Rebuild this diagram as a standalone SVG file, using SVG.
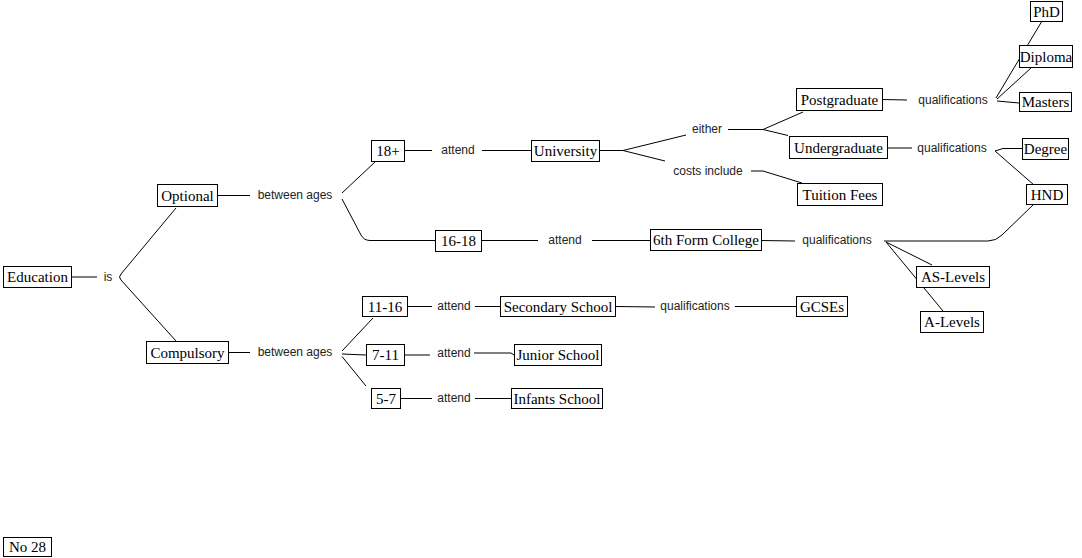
<svg xmlns="http://www.w3.org/2000/svg" width="1082" height="558" viewBox="0 0 1082 558">
<style>
.n rect{fill:#fff;stroke:#000;stroke-width:1}
.n text{font-family:"Liberation Serif","Times New Roman",serif;font-size:15px;fill:#000;text-anchor:middle}
.lbl{font-family:"Liberation Sans",Arial,sans-serif;font-size:12px;fill:#222;text-anchor:middle}
#connectors path{fill:none;stroke:#000;stroke-width:1}
</style>
<rect width="1082" height="558" fill="#fff"/>
<g id="connectors">
<path d="M72,277 L97,277"/>
<path d="M176,208 L121,274 Q118,277 121,280 L176,341"/>
<path d="M218,195.5 L250,195.5"/>
<path d="M229,352.5 L250,352.5"/>
<path d="M375,162 L342,193"/>
<path d="M342,199 L361,235 Q364,240.5 370,240.5 L435,240.5"/>
<path d="M405,150.5 L432,150.5"/>
<path d="M482,150.5 L531,150.5"/>
<path d="M482,240.5 L538,240.5"/>
<path d="M592,240.5 L650,240.5"/>
<path d="M600,150.5 L623,150.5 L686,135"/>
<path d="M623,150.5 L665,161"/>
<path d="M728,129.5 L763,129.5 L803,112"/>
<path d="M763,129.5 L788,135.5"/>
<path d="M751,171 L763,171 L802,183"/>
<path d="M883,99.5 L907,100"/>
<path d="M996,98 L1042,21"/>
<path d="M997,99 L1031,68"/>
<path d="M997,101 L1019,103"/>
<path d="M888,148 L912,148"/>
<path d="M995,151 L1003,148.5 L1022,148.5"/>
<path d="M995,151 L1034,185"/>
<path d="M761,240.5 L795,241"/>
<path d="M884,241 L988,241 Q996,241 1002,235 L1034,204"/>
<path d="M886,242 L932,265"/>
<path d="M886,242 L943,311"/>
<path d="M408,306.5 L432,306.5"/>
<path d="M475,306.5 L500,306.5"/>
<path d="M616,306.5 L655,307"/>
<path d="M735,306.5 L796,306.5"/>
<path d="M342,351 L373,318"/>
<path d="M342,354 L366,355"/>
<path d="M342,356.5 L366,386"/>
<path d="M405,355 L430,355"/>
<path d="M474,353 L511,353 L514,355"/>
<path d="M400,398.5 L432,398.5"/>
<path d="M475,398.5 L511,398.5"/>
</g>
<g id="labels">
<text class="lbl" x="108" y="281">is</text>
<text class="lbl" x="295" y="199">between ages</text>
<text class="lbl" x="295" y="356">between ages</text>
<text class="lbl" x="458" y="154">attend</text>
<text class="lbl" x="565" y="244">attend</text>
<text class="lbl" x="707" y="133">either</text>
<text class="lbl" x="708" y="175">costs include</text>
<text class="lbl" x="953" y="104">qualifications</text>
<text class="lbl" x="952" y="152">qualifications</text>
<text class="lbl" x="837" y="244">qualifications</text>
<text class="lbl" x="454" y="310">attend</text>
<text class="lbl" x="695" y="310">qualifications</text>
<text class="lbl" x="454" y="357">attend</text>
<text class="lbl" x="454" y="402">attend</text>
</g>
<g id="education" class="n"><rect x="3.5" y="266.5" width="68" height="21"/><text x="37.5" y="282">Education</text></g>
<g id="optional" class="n"><rect x="157.5" y="184.5" width="60" height="22"/><text x="187.5" y="200.5">Optional</text></g>
<g id="compulsory" class="n"><rect x="146.5" y="341.5" width="82" height="22"/><text x="187.5" y="357.5">Compulsory</text></g>
<g id="n18plus" class="n"><rect x="371.5" y="140.5" width="33" height="21"/><text x="388" y="156">18+</text></g>
<g id="n16-18" class="n"><rect x="435.5" y="230.5" width="46" height="21"/><text x="458.5" y="246">16-18</text></g>
<g id="university" class="n"><rect x="531.5" y="140.5" width="68" height="21"/><text x="565.5" y="156">University</text></g>
<g id="sixthform" class="n"><rect x="650.5" y="229.5" width="111" height="21"/><text x="706" y="245">6th Form College</text></g>
<g id="postgraduate" class="n"><rect x="796.5" y="88.5" width="86" height="22"/><text x="839.5" y="104.5">Postgraduate</text></g>
<g id="undergraduate" class="n"><rect x="789.5" y="136.5" width="98" height="22"/><text x="838.5" y="152.5">Undergraduate</text></g>
<g id="tuition" class="n"><rect x="797.5" y="183.5" width="85" height="22"/><text x="840" y="199.5">Tuition Fees</text></g>
<g id="phd" class="n"><rect x="1030.5" y="1.5" width="32" height="20"/><text x="1046.5" y="16.5">PhD</text></g>
<g id="diploma" class="n"><rect x="1019.5" y="45.5" width="53" height="22"/><text x="1046" y="61.5">Diploma</text></g>
<g id="masters" class="n"><rect x="1019.5" y="92.5" width="52" height="19"/><text x="1045.5" y="107">Masters</text></g>
<g id="degree" class="n"><rect x="1022.5" y="138.5" width="46" height="21"/><text x="1045.5" y="154">Degree</text></g>
<g id="hnd" class="n"><rect x="1026.5" y="184.5" width="41" height="20"/><text x="1047" y="199.5">HND</text></g>
<g id="aslevels" class="n"><rect x="916.5" y="266.5" width="73" height="21"/><text x="953" y="282">AS-Levels</text></g>
<g id="alevels" class="n"><rect x="920.5" y="311.5" width="63" height="21"/><text x="952" y="327">A-Levels</text></g>
<g id="n11-16" class="n"><rect x="362.5" y="296.5" width="45" height="20"/><text x="385" y="311.5">11-16</text></g>
<g id="secondary" class="n"><rect x="500.5" y="296.5" width="115" height="20"/><text x="558" y="311.5">Secondary School</text></g>
<g id="gcses" class="n"><rect x="796.5" y="296.5" width="51" height="20"/><text x="822" y="311.5">GCSEs</text></g>
<g id="n7-11" class="n"><rect x="366.5" y="344.5" width="38" height="21"/><text x="385.5" y="360">7-11</text></g>
<g id="junior" class="n"><rect x="514.5" y="344.5" width="87" height="21"/><text x="558" y="360">Junior School</text></g>
<g id="n5-7" class="n"><rect x="371.5" y="388.5" width="29" height="20"/><text x="386" y="403.5">5-7</text></g>
<g id="infants" class="n"><rect x="511.5" y="388.5" width="91" height="20"/><text x="557" y="403.5">Infants School</text></g>
<g id="no28" class="n"><rect x="3.5" y="537.5" width="48" height="19"/><text x="27.5" y="552">No 28</text></g>
</svg>
